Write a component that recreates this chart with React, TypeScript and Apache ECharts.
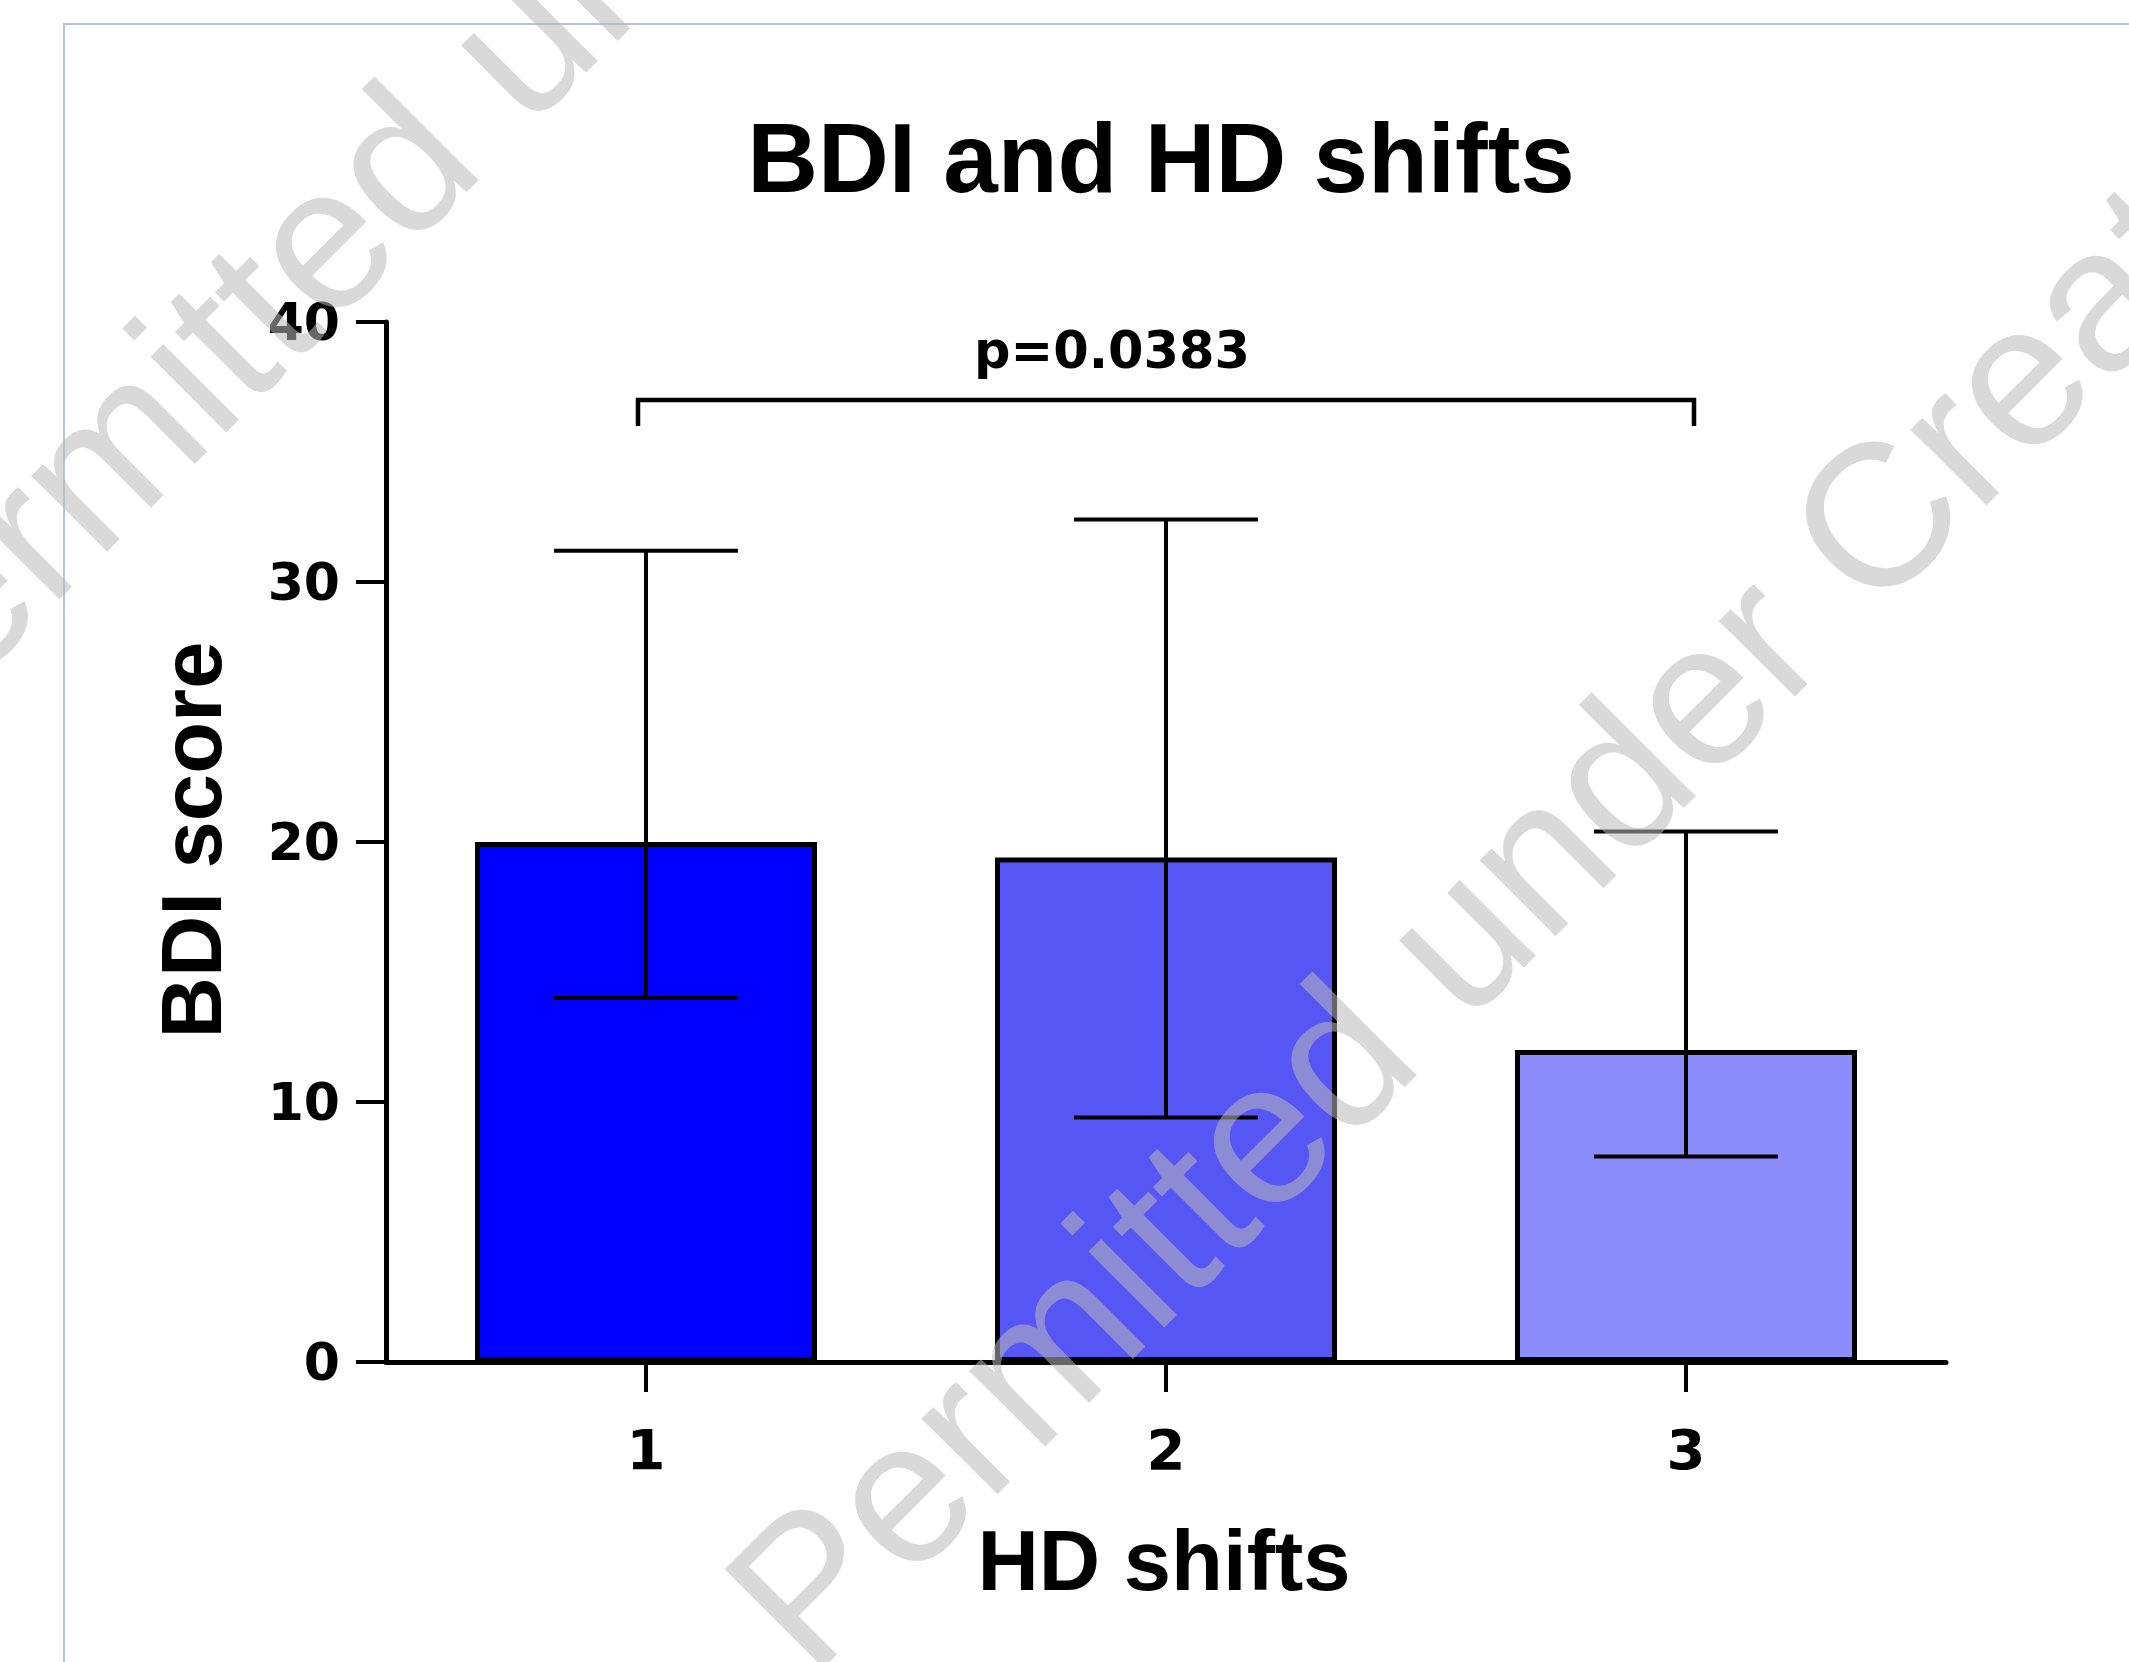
import React, { useEffect, useRef } from 'react';
import * as echarts from 'echarts';

const titleText = 'BDI and HD shifts';
const xAxisName = 'HD shifts';
const yAxisName = 'BDI score';
const categories = ['1', '2', '3'];
const barValues = [20.0, 19.4, 12.0];
const errLow = [14.0, 9.4, 7.9];
const errHigh = [31.2, 32.4, 20.4];
const barColors = ['#0000FF', '#5656F5', '#8C8CFC'];
const yMin = 0;
const yMax = 40;
const yInterval = 10;
const bracketCats = [0, 2];
const bracketLevels = [37, 36];
const pLabel = 'p=0.0383';
const watermarkText = 'Permitted under Creative Commons';

export default function App() {
  const ref = useRef<HTMLDivElement>(null);
  useEffect(() => {
    if (!ref.current) return;
    const chart = echarts.init(ref.current, null, { renderer: 'svg' });
    const wmStyle = {
      font: '203px "Liberation Sans", Arial, sans-serif',
      fill: 'rgba(185,185,185,0.55)',
      align: 'left',
      textAlign: 'left',
      verticalAlign: 'middle',
      textVerticalAlign: 'middle',
    };
    const option: any = {
      animation: false,
      backgroundColor: '#ffffff',
      grid: { left: 386, right: 183, top: 322, bottom: 300 },
      xAxis: {
        type: 'category',
        data: categories,
        boundaryGap: true,
        axisLine: { show: true, lineStyle: { color: '#000', width: 5 } },
        axisTick: { show: true, alignWithLabel: true, length: 30, lineStyle: { color: '#000', width: 4 } },
        axisLabel: {
          color: '#000',
          fontFamily: '"DejaVu Sans", sans-serif',
          fontSize: 56,
          fontWeight: 'bold',
          margin: 59,
        },
        splitLine: { show: false },
      },
      yAxis: {
        type: 'value',
        min: yMin,
        max: yMax,
        interval: yInterval,
        axisLine: { show: true, lineStyle: { color: '#000', width: 5 } },
        axisTick: { show: true, length: 30, lineStyle: { color: '#000', width: 4 } },
        axisLabel: {
          color: '#000',
          fontFamily: '"DejaVu Sans", sans-serif',
          fontSize: 52,
          fontWeight: 'bold',
          margin: 46,
        },
        splitLine: { show: false },
      },
      series: [
        {
          type: 'bar',
          barWidth: 342,
          data: barValues.map((v, i) => ({
            value: v,
            itemStyle: { color: barColors[i], borderColor: '#000', borderWidth: 5 },
          })),
          z: 2,
        },
        {
          type: 'custom',
          z: 3,
          encode: { x: 0, y: 1 },
          data: categories.map((c, i) => [i, errLow[i], errHigh[i]]),
          renderItem: (params: any, api: any) => {
            const x = api.value(0);
            const pLo = api.coord([x, api.value(1)]);
            const pHi = api.coord([x, api.value(2)]);
            const hw = 92;
            const st = { stroke: '#000', lineWidth: 4 };
            return {
              type: 'group',
              children: [
                { type: 'line', shape: { x1: pLo[0], y1: pLo[1], x2: pHi[0], y2: pHi[1] }, style: st },
                { type: 'line', shape: { x1: pLo[0] - hw, y1: pLo[1], x2: pLo[0] + hw, y2: pLo[1] }, style: st },
                { type: 'line', shape: { x1: pHi[0] - hw, y1: pHi[1], x2: pHi[0] + hw, y2: pHi[1] }, style: st },
              ],
            };
          },
        },
        {
          type: 'custom',
          z: 3,
          encode: { x: 0, y: 1 },
          data: [[bracketCats[0], bracketLevels[0], bracketCats[1], bracketLevels[1]]],
          renderItem: (params: any, api: any) => {
            const a = api.coord([api.value(0), api.value(1)]);
            const b = api.coord([api.value(2), api.value(1)]);
            const aEnd = api.coord([api.value(0), api.value(3)]);
            const bEnd = api.coord([api.value(2), api.value(3)]);
            const pad = 8;
            return {
              type: 'group',
              children: [
                {
                  type: 'polyline',
                  shape: {
                    points: [
                      [aEnd[0] - pad, aEnd[1]],
                      [a[0] - pad, a[1]],
                      [b[0] + pad, b[1]],
                      [bEnd[0] + pad, bEnd[1]],
                    ],
                  },
                  style: { stroke: '#000', lineWidth: 4.5, fill: 'none' },
                },
                {
                  type: 'text',
                  x: (a[0] + b[0]) / 2 - 54,
                  y: a[1] - 50,
                  style: {
                    text: pLabel,
                    fill: '#000',
                    fontSize: 51,
                    fontWeight: 'bold',
                    fontFamily: '"DejaVu Sans", sans-serif',
                    align: 'center',
                    verticalAlign: 'middle',
                  },
                },
              ],
            };
          },
        },
      ],
      graphic: [
        {
          type: 'rect',
          z: 0,
          shape: { x: 64, y: 24, width: 2200, height: 1800 },
          style: { fill: 'none', stroke: '#b3c5d9', lineWidth: 2 },
        },
        {
          type: 'text',
          x: 1161,
          y: 158,
          style: {
            text: titleText,
            font: 'bold 98px "Liberation Sans", Arial, sans-serif',
            fill: '#000',
            align: 'center',
            textAlign: 'center',
            verticalAlign: 'middle',
            textVerticalAlign: 'middle',
          },
        },
        {
          type: 'text',
          x: 1164,
          y: 1560,
          style: {
            text: xAxisName,
            font: 'bold 85px "Liberation Sans", Arial, sans-serif',
            fill: '#000',
            align: 'center',
            textAlign: 'center',
            verticalAlign: 'middle',
            textVerticalAlign: 'middle',
          },
        },
        {
          type: 'text',
          x: 191,
          y: 840,
          rotation: Math.PI / 2,
          style: {
            text: yAxisName,
            font: 'bold 85px "Liberation Sans", Arial, sans-serif',
            fill: '#000',
            align: 'center',
            textAlign: 'center',
            verticalAlign: 'middle',
            textVerticalAlign: 'middle',
          },
        },
        {
          type: 'text',
          x: 762,
          y: 1630,
          z: 100,
          rotation: Math.PI / 4,
          style: { ...wmStyle, text: watermarkText },
        },
        {
          type: 'text',
          x: -176,
          y: 735,
          z: 100,
          rotation: Math.PI / 4,
          style: { ...wmStyle, text: watermarkText },
        },
      ],
    };
    chart.setOption(option);
    return () => chart.dispose();
  }, []);
  return (
    <div
      ref={ref}
      style={{ position: 'absolute', left: 0, top: 0, width: 2129, height: 1662 }}
    />
  );
}
